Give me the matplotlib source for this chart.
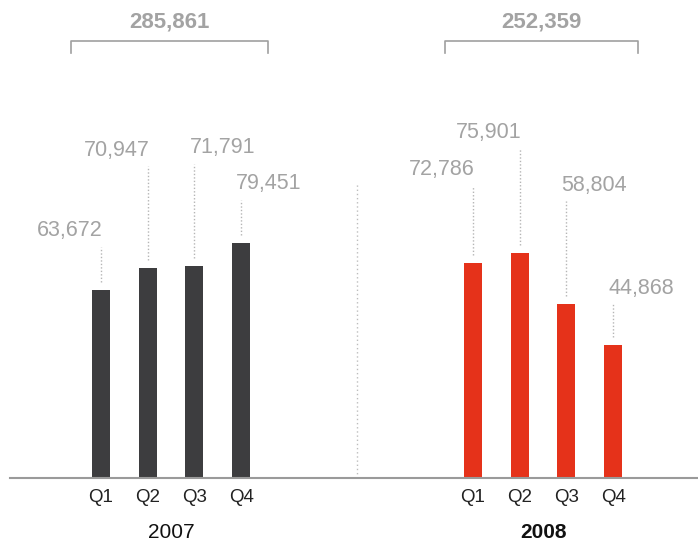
import matplotlib.pyplot as plt

# quarterly values
quarters = ['Q1', 'Q2', 'Q3', 'Q4']
years = ['2007', '2008']
sales_2007 = [63672, 70947, 71791, 79451]
sales_2008 = [72786, 75901, 58804, 44868]
totals = [285861, 252359]

bar_colors = ['#3d3d3f', '#e5321a']
gray = '#a3a3a3'
px = 338.0  # value units per pixel

fig = plt.figure(figsize=(6.98, 5.43), dpi=100)
ax = fig.add_axes([0, 0, 1, 1])
ax.set_xlim(0, 698)
ax.set_ylim(-65 * px, (543 - 65) * px)
ax.axis('off')

group_start = [101, 473]
step = 46.7
# label height above the bar top, in pixels
label_lift = [[59, 118, 118, 59], [93, 121, 119, 57]]
bracket_span = [(71, 268), (445, 638)]

for g, vals in enumerate([sales_2007, sales_2008]):
    xs = [group_start[g] + i * step for i in range(4)]
    ax.bar(xs, vals, width=18, color=bar_colors[g], zorder=2)
    for i, v in enumerate(vals):
        ly = v + label_lift[g][i] * px
        if i < 2:
            ax.text(xs[i] + 2, ly, f'{v:,}', ha='right', va='center',
                    fontsize=15.5, color=gray, family='Liberation Sans')
        else:
            ax.text(xs[i] - 5, ly, f'{v:,}', ha='left', va='center',
                    fontsize=15.5, color=gray, family='Liberation Sans')
        ax.plot([xs[i], xs[i]], [v + 8 * px, ly - 16 * px], color='#b5b5b5',
                lw=1, ls=(0, (1, 1.5)))
        ax.text(xs[i], -20 * px, quarters[i], ha='center', va='center',
                fontsize=13.5, color='#222222', family='Liberation Sans')
    mid = (xs[0] + xs[-1]) / 2
    ax.text(mid, -55 * px, years[g], ha='center', va='center', fontsize=15,
            color='#111111', family='Liberation Sans',
            fontweight='bold' if g == 1 else 'normal')
    # bracket with group total
    x0, x1 = bracket_span[g]
    top = 437 * px
    ax.plot([x0, x0, x1, x1], [top - 12 * px, top, top, top - 12 * px],
            color='#a0a0a0', lw=1.2)
    ax.text((x0 + x1) / 2, top + 19 * px, f'{totals[g]:,}', ha='center',
            va='center', fontsize=16, fontweight='bold', color=gray,
            family='Liberation Sans')

# divider between the years
ax.plot([357, 357], [0, 295 * px], color='#bdbdbd', lw=1, ls=(0, (1, 2)))
# baseline
ax.axhline(0, xmin=10 / 698, xmax=1, color='#9a9a9a', lw=1.5, zorder=3)

fig.savefig('out.png', dpi=100)
